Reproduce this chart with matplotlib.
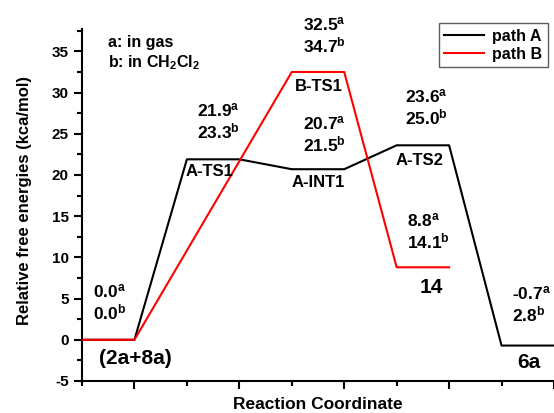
import matplotlib
matplotlib.use("Agg")
import matplotlib.pyplot as plt
from matplotlib.ticker import MultipleLocator, NullFormatter

plt.rcParams["font.family"] = "Liberation Sans"
plt.rcParams["font.weight"] = "bold"
plt.rcParams["mathtext.fontset"] = "custom"
plt.rcParams["mathtext.rm"] = "Liberation Sans:bold"
plt.rcParams["mathtext.it"] = "Liberation Sans:bold"
plt.rcParams["mathtext.bf"] = "Liberation Sans:bold"
plt.rcParams["mathtext.default"] = "bf"
plt.rcParams["axes.unicode_minus"] = False

# path A: reactants -> A-TS1 -> A-INT1 -> A-TS2 -> 6a
a_names = ["(2a+8a)", "A-TS1", "A-INT1", "A-TS2", "6a"]
a_slot = [0, 2, 4, 6, 8]
a_gas = [0.0, 21.9, 20.7, 23.6, -0.7]
a_dcm = [0.0, 23.3, 21.5, 25.0, 2.8]

# path B: reactants -> B-TS1 -> 14
b_names = ["(2a+8a)", "B-TS1", "14"]
b_slot = [0, 4, 6]
b_gas = [0.0, 32.5, 8.8]
b_dcm = [0.0, 34.7, 14.1]


def profile(slots, energies):
    xs, ys = [], []
    for s, e in zip(slots, energies):
        xs += [s, s + 1]
        ys += [e, e]
    return xs, ys


fig = plt.figure(figsize=(5.54, 4.13), dpi=100)
ax = fig.add_axes([0.148, 0.0775, 0.852, 0.852])

xa, ya = profile(a_slot, a_gas)
xb, yb = profile(b_slot, b_gas)
ax.plot(xa, ya, color="black", lw=1.5, label="path A", zorder=2)
ax.plot(xb, yb, color="red", lw=1.5, label="path B", zorder=3)

ax.set_xlim(0, 9)
ax.set_ylim(-5, 37.7)
ax.spines["top"].set_visible(False)
ax.spines["right"].set_visible(False)
ax.spines["left"].set_linewidth(1.5)
ax.spines["bottom"].set_linewidth(1.5)

ax.set_xticks([1, 3, 5, 7, 9])
ax.xaxis.set_minor_locator(MultipleLocator(1))
ax.xaxis.set_major_formatter(NullFormatter())
ax.yaxis.set_major_locator(MultipleLocator(5))
ax.yaxis.set_minor_locator(MultipleLocator(2.5))
ax.tick_params(which="major", length=6, width=1.5, labelsize=11)
ax.tick_params(which="minor", length=3.5, width=1.5)

ax.set_xlabel("Reaction Coordinate", fontsize=12.5, fontweight="bold")
ax.xaxis.set_label_coords(0.5, -0.045)
ax.set_ylabel("Relative free energies (kca/mol)", fontsize=12,
              fontweight="bold")
ax.yaxis.set_label_coords(-0.105, 0.514)

# value labels (gas / CH2Cl2), left x and baseline y
a_val_pos = [(0.21, 5.2), (2.19, 27.1), (4.21, 25.6), (6.15, 28.8), (8.19, 4.9)]
b_val_pos = [None, (4.21, 37.6), (6.19, 13.8)]
a_name_pos = [(1.01, -2.3), (2.44, 20.4), (4.50, 19.1), (6.44, 21.8), (8.53, -2.7)]
b_name_pos = [None, (4.51, 30.7), (6.67, 6.3)]
end_names = ["(2a+8a)", "14", "6a"]

for vals_g, vals_d, vpos, names, npos in [
    (a_gas, a_dcm, a_val_pos, a_names, a_name_pos),
    (b_gas, b_dcm, b_val_pos, b_names, b_name_pos),
]:
    for g, d, vp, n, p in zip(vals_g, vals_d, vpos, names, npos):
        if vp is None:
            continue
        ax.text(vp[0], vp[1], f"{g:.1f}$^{{a}}$", fontsize=12.5,
                ha="left", va="baseline")
        ax.text(vp[0], vp[1] - 2.7, f"{d:.1f}$^{{b}}$", fontsize=12.5,
                ha="left", va="baseline")
        ax.text(p[0], p[1], n, fontsize=15 if n in end_names else 12,
                fontweight="bold", ha="center", va="center")

ax.text(0.5, 36.1, "a: in gas", fontsize=11.5, fontweight="bold",
        ha="left", va="center")
ax.text(0.5, 33.6, "b: in CH$_{2}$Cl$_{2}$", fontsize=11.5,
        fontweight="bold", ha="left", va="center")

leg = fig.legend(loc="upper right", bbox_to_anchor=(548 / 554, 1 - 23 / 413),
                 prop={"size": 11.5, "weight": "bold"}, frameon=True,
                 fancybox=False, borderaxespad=0, handlelength=2.5,
                 borderpad=0.35, labelspacing=0.2, handletextpad=0.5)
leg.get_frame().set_edgecolor("#333333")
leg.get_frame().set_linewidth(1.0)

fig.savefig("out.png", dpi=100)
